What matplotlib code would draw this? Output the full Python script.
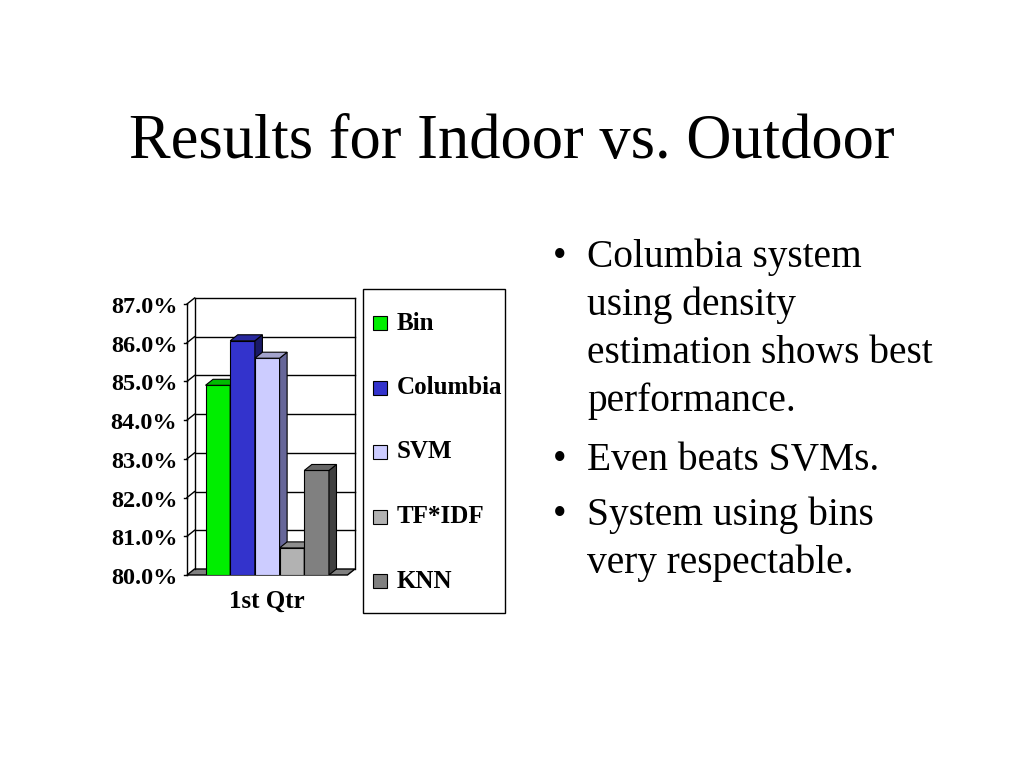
import matplotlib
matplotlib.use("Agg")
import matplotlib.pyplot as plt
from matplotlib.patches import Polygon, Rectangle

# data
series = ["Bin", "Columbia", "SVM", "TF*IDF", "KNN"]
values = [84.9, 86.05, 85.6, 80.7, 82.7]
category = "1st Qtr"
yticks = [80, 81, 82, 83, 84, 85, 86, 87]
front_col = ["#00ee00", "#3333cc", "#ccccff", "#b2b2b2", "#808080"]
top_col = ["#00bb00", "#28289e", "#a3a3cc", "#8e8e8e", "#666666"]
side_col = ["#008800", "#1a1a66", "#666699", "#6b6b6b", "#404040"]
title = "Results for Indoor vs. Outdoor"
bullets = [["Columbia system", "using density", "estimation shows best", "performance."],
           ["Even beats SVMs."],
           ["System using bins", "very respectable."]]

W, H = 1024, 768
def fx(x): return x / W
def fy(y): return 1 - y / H

serif = ["Liberation Serif", "DejaVu Serif"]
plt.rcParams['font.family'] = serif

fig = plt.figure(figsize=(10.24, 7.68), dpi=100)
fig.patch.set_facecolor("white")

fig.text(fx(512), fy(158), title, ha="center", va="baseline", fontsize=45)

# bullets
base = [267, 470, 525]
for b, lines in enumerate(bullets):
    fig.text(fx(553), fy(base[b]), "\u2022", ha="left", va="baseline", fontsize=28)
    for k, ln in enumerate(lines):
        fig.text(fx(587), fy(base[b] + k * 48), ln, ha="left", va="baseline", fontsize=28.4)

# pseudo 3d column chart
DX, DY = 0.305, 0.155
x0, x1 = -0.75, len(series) + 0.75
ymin, ymax = yticks[0], yticks[-1]
ax = fig.add_axes([fx(187), fy(575), 168 / W, 277 / H])
ax.set_xlim(x0, x1 + DX)
ax.set_ylim(ymin, ymax + DY)
ax.axis("off")

# floor
ax.add_patch(Polygon([(x0, ymin), (x1, ymin), (x1 + DX, ymin + DY), (x0 + DX, ymin + DY)],
                     closed=True, fc="#808080", ec="black", lw=1, clip_on=False, zorder=1))
# walls + gridlines
ax.plot([x0 + DX, x0 + DX], [ymin + DY, ymax + DY], color="black", lw=1, clip_on=False, zorder=1)
ax.plot([x1 + DX, x1 + DX], [ymin + DY, ymax + DY], color="black", lw=1, clip_on=False, zorder=1)
ax.plot([x0, x0], [ymin, ymax], color="black", lw=1, clip_on=False, zorder=1)
for v in yticks:
    if v > ymin:
        ax.plot([x0 + DX, x1 + DX], [v + DY, v + DY], color="black", lw=1, clip_on=False, zorder=1)
        ax.plot([x0, x0 + DX], [v, v + DY], color="black", lw=1, clip_on=False, zorder=1)
    ax.plot([x0 - 0.12, x0], [v, v], color="black", lw=1, clip_on=False, zorder=1)
    ax.annotate("%.1f%%" % v, (x0, v), xytext=(-7, -2.5), textcoords="offset points",
                ha="right", va="center", fontsize=17.5, fontweight="bold", annotation_clip=False)

for i, v in enumerate(values):
    z = 3 + i
    ax.bar(i, v - ymin, bottom=ymin, width=1, align="edge", color=front_col[i],
           edgecolor="black", lw=0.8, zorder=z)
    ax.add_patch(Polygon([(i + 1, ymin), (i + 1 + DX, ymin + DY), (i + 1 + DX, v + DY), (i + 1, v)],
                         closed=True, fc=side_col[i], ec="black", lw=0.8, zorder=z))
    ax.add_patch(Polygon([(i, v), (i + 1, v), (i + 1 + DX, v + DY), (i + DX, v + DY)],
                         closed=True, fc=top_col[i], ec="black", lw=0.8, zorder=z))

ax.annotate(category, (len(series) / 2, ymin), xytext=(0, -19), textcoords="offset points",
            ha="center", va="center", fontsize=18, fontweight="bold", annotation_clip=False)

# legend box
fig.patches.append(Rectangle((fx(363), fy(613)), 142 / W, 324 / H, transform=fig.transFigure,
                             fc="white", ec="black", lw=1))
for i, name in enumerate(series):
    yc = 323 + i * 64.5
    fig.patches.append(Rectangle((fx(373), fy(yc + 7)), 14 / W, 14 / H, transform=fig.transFigure,
                                 fc=front_col[i], ec="black", lw=0.8))
    fig.text(fx(397), fy(yc), name, ha="left", va="center", fontsize=18, fontweight="bold")

fig.savefig("out.png", dpi=100)
